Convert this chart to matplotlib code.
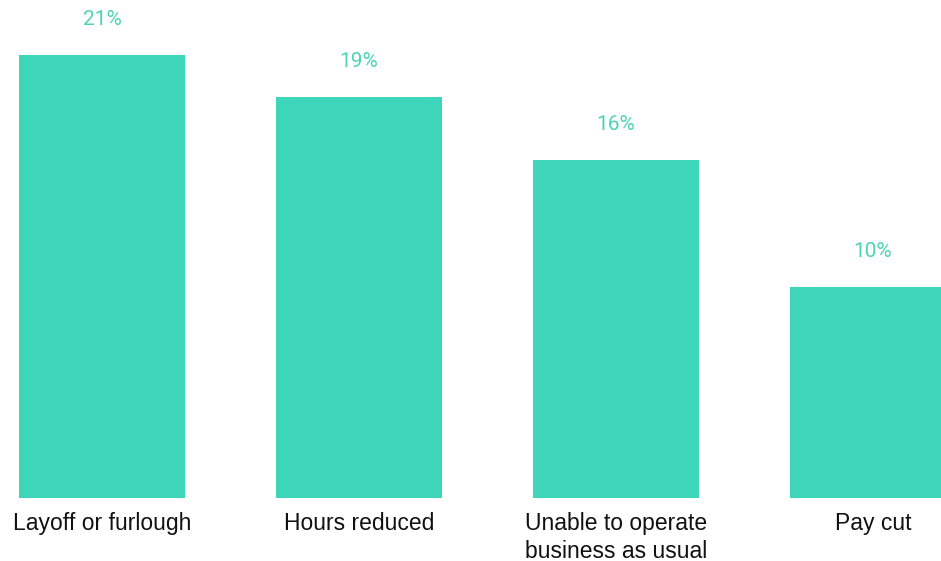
import matplotlib.pyplot as plt
import numpy as np

# Share of respondents reporting each employment impact
categories = ['Layoff or furlough', 'Hours reduced', 'Unable to operate\nbusiness as usual', 'Pay cut']
values = [21, 19, 16, 10]

bar_color = '#3DD6BA'
label_color = '#4DD4B6'

fig = plt.figure(figsize=(9.41, 5.61), dpi=100)
ax = fig.add_axes([0, 0, 1, 1])

x = np.arange(len(categories)) * 1.0
ax.bar(x, values, width=0.646, color=bar_color, zorder=2)

for xi, v in zip(x, values):
    ax.annotate(f'{v}%', (xi, v), xytext=(0, 25.5), textcoords='offset points',
                ha='center', va='center', fontsize=15, color=label_color,
                family='Roboto')

for xi, cat in zip(x, categories):
    ax.annotate(cat, (xi, 0), xytext=(0, -10), textcoords='offset points',
                ha='center', va='top', fontsize=16.5, color='#111111',
                family='Liberation Sans', linespacing=1.27)

# pixel mapping: bar centres 257 px apart, first at x=102; baseline 63 px up
ax.set_xlim(-102 / 257, (941 - 102) / 257)
ax.set_ylim(-63 / 21.1, 498 / 21.1)
ax.axis('off')

fig.savefig('out.png', dpi=100)
